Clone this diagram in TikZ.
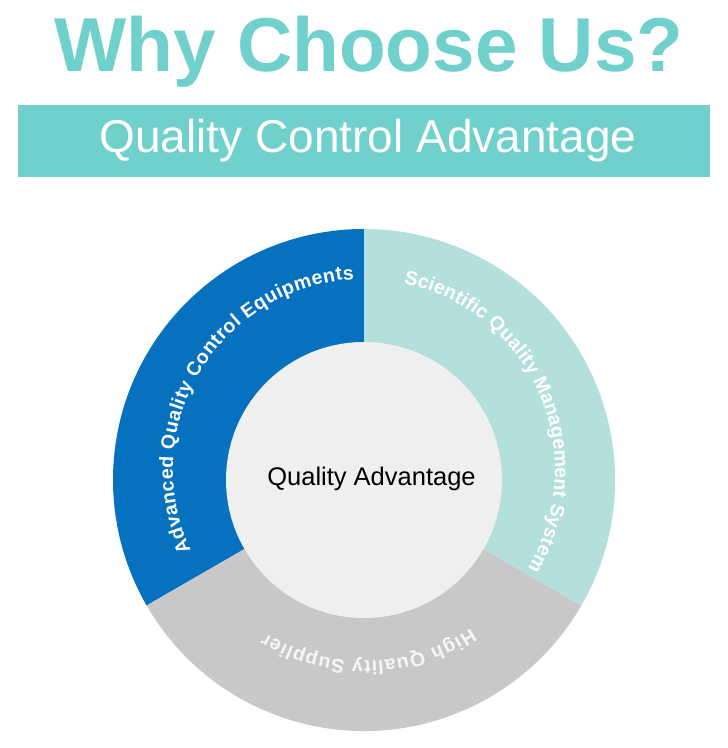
\documentclass[tikz,border=0pt]{standalone}
\usepackage{fontspec}
\setmainfont{Liberation Sans}
\usetikzlibrary{decorations.text}
\definecolor{wcteal}{HTML}{70D0CC}
\definecolor{wcblue}{HTML}{0672BF}
\definecolor{wcpale}{HTML}{B3DFDD}
\definecolor{wcgray}{HTML}{C9C8C8}
\definecolor{wcinner}{HTML}{EFEFEF}
\definecolor{wcwhite}{HTML}{F6F6F6}
\newcommand\ringstyle{\bfseries\fontsize{19.5}{21}\selectfont\color{white}}
\newcommand\ringstylegray{\bfseries\fontsize{19.5}{21}\selectfont\color{wcwhite}}
\tikzset{
  ringtext/.style={decorate, decoration={text along path, text align=fit to path, text={#1}}},
}
\begin{document}
\begin{tikzpicture}[x=1pt,y=1pt]
\useasboundingbox (0,0) rectangle (728,748);
\fill[white] (0,0) rectangle (728,748);
\node[anchor=base, text=wcteal, font=\fontsize{76.5}{80}\selectfont\bfseries, inner sep=0] (title) at (369,676) {Why Choose Us?};
\node[fill=wcteal, minimum width=692pt, minimum height=72pt, inner sep=0, anchor=south west] (banner) at (18,571) {};
\node[anchor=base, text=white, font=\fontsize{46}{48}\selectfont, inner sep=0] (bannertext) at (368,595) {Quality Control Advantage};
\begin{scope}[shift={(364,268)}]
  \fill[wcblue] (0,0) -- (90:251) arc[start angle=90, end angle=210, radius=251pt] -- cycle;
  \fill[wcgray] (0,0) -- (210:251) arc[start angle=210, end angle=330, radius=251pt] -- cycle;
  \fill[wcpale] (0,0) -- (330:251) arc[start angle=330, end angle=450, radius=251pt] -- cycle;
  \node[circle, fill=wcinner, minimum size=276pt, inner sep=0] (hub) at (0,0) {};
\end{scope}
\begin{scope}[shift={(364,278)}]
  \path[ringtext={|\ringstyle|Advanced Quality Control Equipments}] (205:191) arc[start angle=205, end angle=93, radius=191pt];
  \path[ringtext={|\ringstyle|Scientific Quality Management System}] (78:191) arc[start angle=78, end angle=-31, radius=191pt];
  \path[ringtext={|\ringstylegray|High Quality Supplier}] (-56:191) arc[start angle=-56, end angle=-121, radius=191pt];
\end{scope}
\node[anchor=base, font=\fontsize{25.5}{27}\selectfont, inner sep=0] (hubtext) at (371.5,262) {Quality Advantage};
\end{tikzpicture}
\end{document}
